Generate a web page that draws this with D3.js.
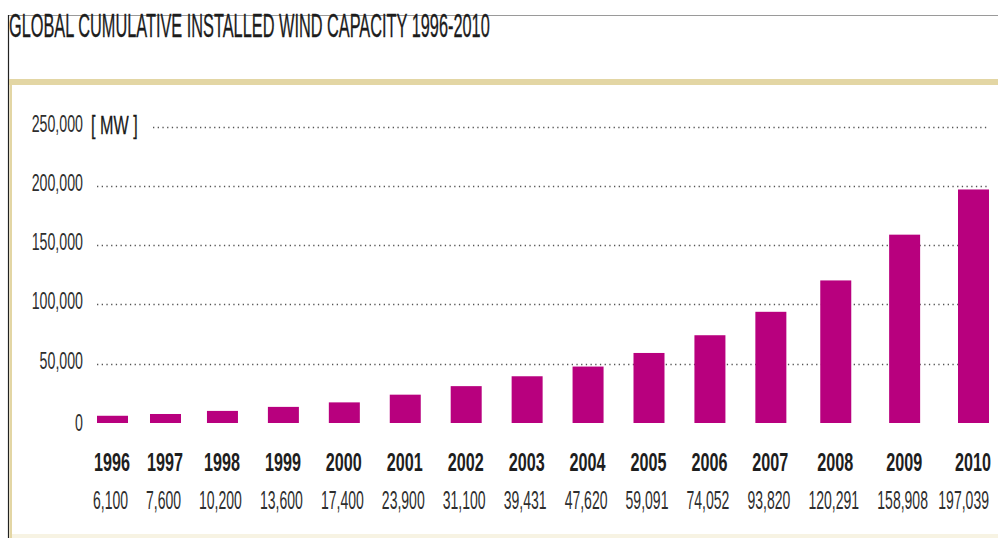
<!DOCTYPE html>
<html>
<head>
<meta charset="utf-8">
<script src="https://cdn.jsdelivr.net/npm/d3@7"></script>
<style>
  html, body { margin: 0; padding: 0; background: #fff; }
  svg { display: block; }
  text { font-family: "Liberation Sans Narrow", "Liberation Sans", "DejaVu Sans", sans-serif; }
</style>
</head>
<body>
<svg id="chart" width="998" height="538"></svg>
<script>
// Global cumulative installed wind capacity, MW
const years = ["1996","1997","1998","1999","2000","2001","2002","2003","2004","2005","2006","2007","2008","2009","2010"];
const capacity = [6100, 7600, 10200, 13600, 17400, 23900, 31100, 39431, 47620, 59091, 74052, 93820, 120291, 158908, 197039];
const yTicks = [0, 50000, 100000, 150000, 200000, 250000];
const titleText = "GLOBAL CUMULATIVE INSTALLED WIND CAPACITY 1996-2010";
const unitText = "[ MW ]";

const W = 998, H = 538;
const svg = d3.select("#chart");
const fmt = d3.format(",");

const BAR = "#b8007e";
const TAN = "#e3d6a4";
const FS = 25;     // year and value labels
const FS_Y = 24;   // y axis labels

// frame: thin top rule, left rule, tan band under the title
svg.append("line").attr("x1", 8.5).attr("x2", W).attr("y1", 15.5).attr("y2", 15.5)
  .attr("stroke", "#9a9a9a").attr("stroke-width", 1);
svg.append("line").attr("x1", 8.5).attr("x2", 8.5).attr("y1", 15).attr("y2", H)
  .attr("stroke", "#222").attr("stroke-width", 1.2);
svg.append("rect").attr("x", 9).attr("y", 79).attr("width", W - 9).attr("height", 6).attr("fill", TAN);
svg.append("rect").attr("x", 9.5).attr("y", 85).attr("width", 2.5).attr("height", H - 85).attr("fill", TAN);
svg.append("rect").attr("x", 12).attr("y", 534).attr("width", W - 12).attr("height", 4).attr("fill", "#f7f3e3");

// title, condensed to span 481px
const title = svg.append("text")
  .attr("font-size", 34)
  .attr("fill", "#1c1c1c")
  .attr("stroke", "#1c1c1c").attr("stroke-width", 0.35)
  .text(titleText);
const titleScale = 481 / title.node().getComputedTextLength();
title.attr("transform", `translate(9,36.5) scale(${titleScale},1)`);

// horizontal condensing factor giving a target digit width
function digitWidth(size, weight) {
  const p = svg.append("text").attr("font-size", size).attr("font-weight", weight).text("0000000000");
  const w = p.node().getComputedTextLength() / 10;
  p.remove();
  return w;
}
const sx = 7.8 / digitWidth(FS, "normal");
const sxB = 9.0 / digitWidth(FS, "bold");
const sxY = 7.9 / digitWidth(FS_Y, "normal");

// y scale
const y = d3.scaleLinear().domain([0, 250000]).range([423, 126.7]);

// column centres follow the widths of the value labels, packed with a fixed gap
const widths = capacity.map(v => {
  const t = svg.append("text").attr("font-size", FS).text(fmt(v));
  const w = t.node().getComputedTextLength() * sx;
  t.remove();
  return w;
});
const offsets = [0];
for (let i = 1; i < widths.length; i++) {
  offsets.push(offsets[i - 1] + (widths[i - 1] + widths[i]) / 2 + 17);
}
const xLin = d3.scaleLinear().domain([0, offsets[offsets.length - 1]]).range([112.5, 973.5]);
const x = d3.scaleOrdinal().domain(years).range(offsets.map(o => xLin(o)));
const barW = 31;
const rightEdge = 989;

// grid lines
svg.append("g").selectAll("line")
  .data(yTicks.filter(d => d > 0))
  .join("line")
  .attr("x1", d => d === 250000 ? 153 : 97)
  .attr("x2", rightEdge)
  .attr("y1", d => Math.round(y(d)) + 0.5)
  .attr("y2", d => Math.round(y(d)) + 0.5)
  .attr("stroke", "#555")
  .attr("stroke-width", 1.3)
  .attr("stroke-dasharray", "1.3,3.4");

// y axis labels
svg.append("g").selectAll("text")
  .data(yTicks)
  .join("text")
  .attr("transform", d => `translate(83,${y(d) + (d === 0 ? 7.5 : 5)}) scale(${sxY},1)`)
  .attr("text-anchor", "end")
  .attr("font-size", FS_Y)
  .attr("fill", "#2e2e2e")
  .text(d => fmt(d));

// unit label
svg.append("text")
  .attr("transform", `translate(91,${y(250000) + 7}) scale(${sxY * 1.05},1)`)
  .attr("font-size", FS + 1)
  .attr("fill", "#1a1a1a")
  .attr("stroke", "#1a1a1a").attr("stroke-width", 0.3)
  .text(unitText);

// bars
svg.append("g").selectAll("rect")
  .data(years)
  .join("rect")
  .attr("x", d => x(d) - barW / 2)
  .attr("width", barW)
  .attr("y", (d, i) => y(capacity[i]))
  .attr("height", (d, i) => y(0) - y(capacity[i]))
  .attr("fill", BAR);

// year labels
svg.append("g").selectAll("text")
  .data(years)
  .join("text")
  .attr("transform", d => `translate(${x(d) - 0.5},470.5) scale(${sxB},1)`)
  .attr("text-anchor", "middle")
  .attr("font-size", FS)
  .attr("font-weight", "bold")
  .attr("fill", "#1e1e1e")
  .text(d => d);

// value labels, kept inside the right edge of the plot
svg.append("g").selectAll("text")
  .data(years)
  .join("text")
  .attr("transform", (d, i) => {
    const cx = Math.min(x(d) - 2, rightEdge - widths[i] / 2);
    return `translate(${cx},508.5) scale(${sx},1)`;
  })
  .attr("text-anchor", "middle")
  .attr("font-size", FS)
  .attr("fill", "#2e2e2e")
  .text((d, i) => fmt(capacity[i]));
</script>
</body>
</html>
